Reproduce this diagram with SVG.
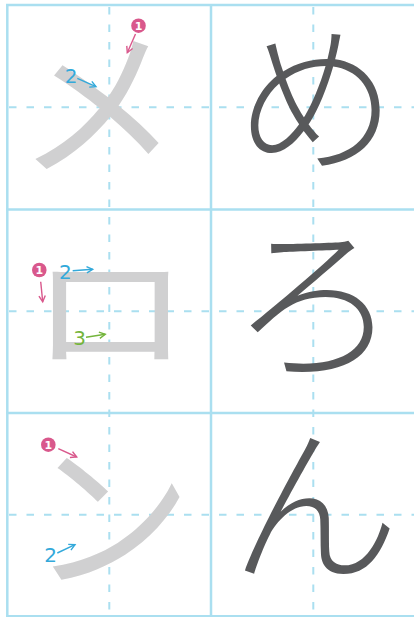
<svg xmlns="http://www.w3.org/2000/svg" width="414" height="617" viewBox="0 0 414 617">
<defs>
<style>
.solid{stroke:#aadff0;stroke-width:2.5;fill:none}
.dash{stroke:#aadff0;stroke-width:2;fill:none;stroke-dasharray:7.5 10}
.big{font-family:"Noto Sans CJK JP","Noto Sans CJK SC",sans-serif;font-size:162px;text-anchor:middle}
.dark{fill:#58595b;font-weight:300}
.light{fill:#d0d0d1;font-weight:400}
.num{font-family:"DejaVu Sans",sans-serif;font-size:20px;text-anchor:middle}
.one{font-family:"DejaVu Sans",sans-serif;font-size:11px;font-weight:bold;fill:#fff;text-anchor:middle}
.pink{stroke:#d9588c;stroke-width:1.4;fill:none}
.blue{stroke:#33a9da;stroke-width:1.4;fill:none}
.green{stroke:#74b53c;stroke-width:1.4;fill:none}
</style>
<marker id="ap" markerUnits="userSpaceOnUse" markerWidth="10" markerHeight="10" refX="7" refY="4" orient="auto"><path d="M1,0.8 L7,4 L1,7.2" fill="none" stroke="#d9588c" stroke-width="1.4"/></marker>
<marker id="ab" markerUnits="userSpaceOnUse" markerWidth="10" markerHeight="10" refX="7" refY="4" orient="auto"><path d="M1,0.8 L7,4 L1,7.2" fill="none" stroke="#33a9da" stroke-width="1.4"/></marker>
<marker id="ag" markerUnits="userSpaceOnUse" markerWidth="10" markerHeight="10" refX="7" refY="4" orient="auto"><path d="M1,0.8 L7,4 L1,7.2" fill="none" stroke="#74b53c" stroke-width="1.4"/></marker>
</defs>
<rect width="414" height="617" fill="#fff"/>
<g id="grid">
<line class="dash" x1="9" y1="107.3" x2="414" y2="107.3"/>
<line class="dash" x1="9" y1="311.3" x2="414" y2="311.3"/>
<line class="dash" x1="9" y1="514.8" x2="414" y2="514.8"/>
<line class="dash" x1="109.3" y1="7" x2="109.3" y2="617"/>
<line class="dash" x1="313.3" y1="7" x2="313.3" y2="617"/>
<line class="solid" x1="6" y1="5" x2="414" y2="5"/>
<line class="solid" x1="6" y1="209.5" x2="414" y2="209.5"/>
<line class="solid" x1="6" y1="413" x2="414" y2="413"/>
<line class="solid" x1="6" y1="616.3" x2="414" y2="616.3"/>
<line class="solid" x1="7.3" y1="4" x2="7.3" y2="617"/>
<line class="solid" x1="211" y1="4" x2="211" y2="617"/>
</g>
<g id="char-me-kata"><text class="big light" x="98" y="165">メ</text></g>
<g id="char-ro-kata"><text class="big light" transform="translate(110 310) scale(1 0.78) translate(-110 -314)" x="110" y="375">ロ</text></g>
<g id="char-n-kata"><text class="big light" x="111" y="577">ン</text></g>
<g id="char-me-hira"><text class="big dark" x="316" y="160">め</text></g>
<g id="char-ro-hira"><text class="big dark" x="315" y="366" style="font-size:170px">ろ</text></g>
<g id="char-n-hira"><text class="big dark" x="315" y="569" style="font-size:170px">ん</text></g>
<g id="labels">
<circle cx="138.5" cy="25.7" r="7.3" fill="#d9588c"/><text class="one" x="138.5" y="29.7">1</text>
<text class="num" x="71" y="83" fill="#33a9da">2</text>
<circle cx="39.3" cy="270" r="7.3" fill="#d9588c"/><text class="one" x="39.3" y="274">1</text>
<text class="num" x="65.3" y="279" fill="#33a9da">2</text>
<text class="num" x="79.5" y="345" fill="#74b53c">3</text>
<circle cx="48.3" cy="444.7" r="7.3" fill="#d9588c"/><text class="one" x="48.3" y="448.7">1</text>
<text class="num" x="50.5" y="562" fill="#33a9da">2</text>
</g>
<g id="connectors">
<line class="pink" x1="135.5" y1="34" x2="127.3" y2="52.7" marker-end="url(#ap)"/>
<line class="blue" x1="77.3" y1="78.3" x2="96" y2="86.7" marker-end="url(#ab)"/>
<line class="pink" x1="40.7" y1="281.7" x2="42.7" y2="301.7" marker-end="url(#ap)"/>
<line class="blue" x1="72.7" y1="270.7" x2="92.7" y2="269.3" marker-end="url(#ab)"/>
<line class="green" x1="86" y1="337.3" x2="105.3" y2="334.3" marker-end="url(#ag)"/>
<line class="pink" x1="58.3" y1="448.7" x2="76.7" y2="457" marker-end="url(#ap)"/>
<line class="blue" x1="57.3" y1="553" x2="75" y2="544.7" marker-end="url(#ab)"/>
</g>
</svg>
